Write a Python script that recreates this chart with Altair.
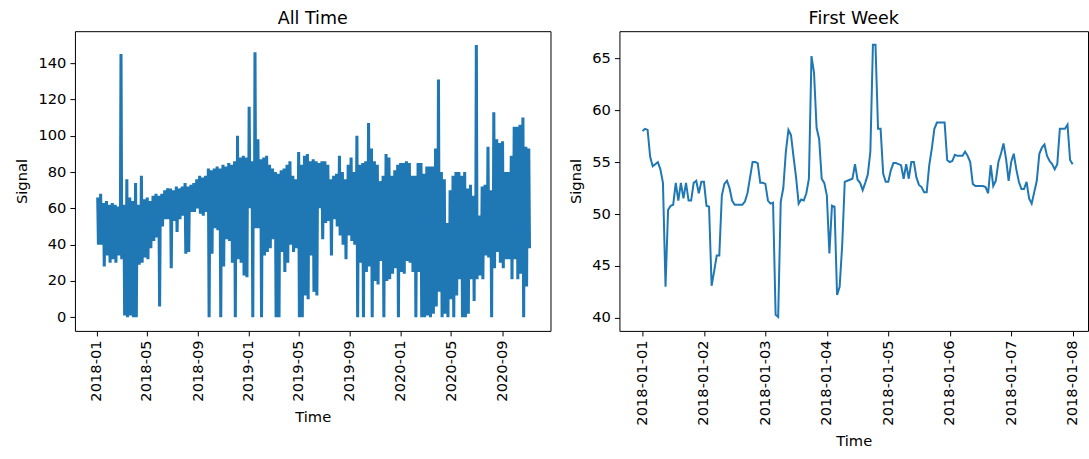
import altair as alt
import pandas as pd

START = pd.Timestamp("2018-01-01")
FMT = "%Y-%m-%dT%H:%M:%S"

# Weekly upper / lower envelope of the full record (week 0 starts 2018-01-01)
week_high = [
    66, 68, 63, 64, 62, 63, 62, 61, 145, 62,
    76, 66, 64, 74, 62, 78, 65, 66, 64, 67,
    68, 67, 68, 70, 71, 71, 70, 72, 71, 72,
    74, 72, 73, 74, 76, 78, 77, 78, 82, 81,
    82, 83, 82, 84, 83, 85, 84, 86, 100, 88,
    89, 88, 116, 86, 146, 98, 87, 88, 89, 84,
    82, 80, 79, 81, 82, 84, 86, 78, 76, 91,
    84, 89, 90, 86, 87, 86, 85, 86, 86, 84,
    76, 78, 79, 89, 80, 76, 84, 88, 80, 100,
    84, 85, 86, 107, 93, 86, 84, 75, 78, 90,
    88, 78, 81, 84, 85, 85, 86, 85, 78, 78,
    85, 85, 79, 83, 83, 83, 93, 131, 80, 76,
    52, 70, 78, 80, 80, 78, 80, 71, 73, 67,
    150, 56, 72, 73, 94, 70, 113, 98, 96, 97,
    80, 80, 89, 105, 105, 106, 110, 94, 93,
]
week_low = [
    40, 40, 28, 34, 30, 32, 30, 34, 32, 1,
    0, 1, 0, 0, 29, 30, 33, 32, 38, 42,
    44, 6, 50, 54, 54, 27, 53, 47, 54, 56,
    35, 36, 58, 58, 60, 57, 56, 58, 0, 35,
    49, 48, 0, 28, 43, 42, 30, 0, 32, 30,
    23, 22, 60, 0, 49, 49, 0, 34, 36, 38,
    43, 0, 0, 36, 25, 30, 40, 36, 38, 0,
    0, 12, 10, 34, 14, 12, 60, 43, 52, 53,
    34, 54, 50, 45, 40, 32, 45, 42, 40, 0,
    30, 0, 25, 28, 0, 20, 18, 31, 0, 20,
    21, 24, 27, 0, 25, 24, 31, 30, 25, 0,
    25, 0, 0, 1, 0, 2, 6, 14, 0, 2,
    0, 10, 0, 12, 21, 0, 0, 2, 21, 9,
    21, 23, 21, 34, 33, 0, 27, 36, 30, 27,
    32, 32, 21, 32, 21, 24, 0, 17, 38,
]

# Hourly readings for the first week, from 2018-01-01 00:00
first_week = [
    58.0, 58.2, 58.1, 55.5, 54.6, 54.8, 55.0, 54.3, 53.0, 43.0,
    50.4, 50.8, 50.9, 53.0, 51.3, 53.0, 51.5, 53.0, 51.3, 51.3,
    53.0, 53.2, 52.0, 53.1, 53.1, 50.8, 50.7, 43.1, 44.5, 46.0,
    46.0, 51.8, 52.9, 53.2, 52.5, 51.3, 50.9, 50.9, 50.9, 50.9,
    51.2, 52.0, 53.5, 55.0, 55.0, 54.9, 53.0, 53.0, 52.9, 51.3,
    51.0, 51.1, 40.3, 40.1, 51.2, 52.5, 56.0, 58.1, 57.6, 55.5,
    53.5, 51.0, 51.4, 51.3, 52.0, 53.4, 65.2, 63.6, 58.3, 57.2,
    53.4, 53.0, 51.8, 46.2, 50.8, 50.7, 42.2, 43.0, 47.0, 53.1,
    53.2, 53.3, 53.4, 54.8, 53.3, 53.0, 52.3, 53.0, 53.8, 56.0,
    66.3, 66.3, 58.2, 58.2, 53.9, 53.1, 53.1, 54.2, 54.9, 54.9,
    54.8, 54.7, 53.4, 54.8, 53.4, 55.0, 55.0, 53.5, 52.8, 52.6,
    52.1, 52.1, 54.7, 56.3, 58.2, 58.8, 58.8, 58.8, 58.8, 55.2,
    55.0, 55.1, 55.7, 55.6, 55.6, 55.6, 56.0, 55.6, 55.0, 52.9,
    52.7, 52.7, 52.7, 52.7, 52.6, 52.0, 54.7, 52.7, 53.2, 55.0,
    55.8, 56.8, 55.3, 53.2, 55.0, 55.8, 54.3, 53.1, 52.4, 52.4,
    53.1, 51.5, 51.0, 52.1, 53.2, 55.8, 56.4, 56.7, 55.6, 55.1,
    54.8, 54.3, 54.8, 58.2, 58.2, 58.2, 58.6, 55.2, 54.8,
]

# Tick positions
all_ticks = [(2018, 1), (2018, 5), (2018, 9), (2019, 1), (2019, 5),
             (2019, 9), (2020, 1), (2020, 5), (2020, 9)]
week_ticks = [1, 2, 3, 4, 5, 6, 7, 8]

# Each week is drawn as a high/low zig-zag so the dense record reads as a band
rows = []
for i, (hi, lo) in enumerate(zip(week_high, week_low)):
    for k, v in enumerate((hi, lo, hi, lo)):
        t = START + pd.Timedelta(days=7 * i + 1.75 * k)
        rows.append({"time": t.strftime(FMT), "signal": v})
all_time = pd.DataFrame(rows)

week = pd.DataFrame({
    "time": [(START + pd.Timedelta(hours=h)).strftime(FMT) for h in range(len(first_week))],
    "signal": first_week,
})

BLUE = "#1f77b4"
FONT = "DejaVu Sans"

left = alt.Chart(all_time, title="All Time").mark_line(
    color=BLUE, strokeWidth=1.6, clip=True
).encode(
    x=alt.X(
        "time:T",
        title="Time",
        scale=alt.Scale(domain=[alt.DateTime(year=2017, month=11, date=9),
                                alt.DateTime(year=2020, month=12, date=26)]),
        axis=alt.Axis(values=[alt.DateTime(year=y, month=m, date=1) for y, m in all_ticks],
                      format="%Y-%m", labelAngle=270),
    ),
    y=alt.Y(
        "signal:Q",
        title="Signal",
        scale=alt.Scale(domain=[-7.5, 157.6], nice=False, zero=False),
        axis=alt.Axis(values=[0, 20, 40, 60, 80, 100, 120, 140]),
    ),
).properties(width=476, height=300)

right = alt.Chart(week, title="First Week").mark_line(
    color=BLUE, strokeWidth=2, clip=True
).encode(
    x=alt.X(
        "time:T",
        title="Time",
        scale=alt.Scale(domain=[alt.DateTime(year=2017, month=12, date=31, hours=15),
                                alt.DateTime(year=2018, month=1, date=8, hours=6)]),
        axis=alt.Axis(values=[alt.DateTime(year=2018, month=1, date=d) for d in week_ticks],
                      format="%Y-%m-%d", labelAngle=270),
    ),
    y=alt.Y(
        "signal:Q",
        title="Signal",
        scale=alt.Scale(domain=[38.75, 67.6], nice=False, zero=False),
        axis=alt.Axis(values=[40, 45, 50, 55, 60, 65]),
    ),
).properties(width=469, height=300)

chart = alt.hconcat(left, right, spacing=16).properties(
    padding={"left": 14, "top": 9, "right": 0, "bottom": 0},
    background="white",
).configure_view(
    stroke="black", strokeWidth=1
).configure_axis(
    labelFont=FONT, labelFontSize=14.7, labelColor="black",
    titleFont=FONT, titleFontSize=14.7, titleFontWeight="normal", titleColor="black",
    tickColor="black", tickSize=5, tickWidth=1, labelPadding=4,
    grid=False, domain=False, titlePadding=8,
).configure_title(
    font=FONT, fontSize=17.5, fontWeight="normal", color="black", offset=4, anchor="middle",
)

chart.save("out.html", embed_options={"renderer": "svg", "actions": False})
